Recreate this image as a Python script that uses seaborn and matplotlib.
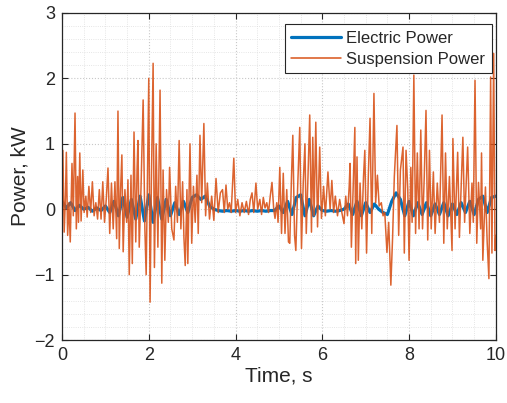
import seaborn as sns
import numpy as np
import pandas as pd
from matplotlib import pyplot as plt
from matplotlib.ticker import MultipleLocator

colors = ['#0072bd', '#d95319']

# electric power, sampled every 0.1 s
t_elec = [round(0.1 * i, 1) for i in range(101)]
p_elec = [0.12, 0.02, 0.10, -0.02, 0.06, 0.0, 0.03, -0.03, 0.02, -0.02,
          0.05, -0.05, 0.12, -0.10, 0.18, -0.12, 0.15, -0.15, 0.20, -0.18,
          0.22, -0.20, 0.18, -0.15, 0.15, -0.10, 0.10, -0.08, 0.12, -0.05,
          0.18, 0.22, 0.15, 0.20, 0.05, 0.0, -0.02, -0.03, -0.02, -0.03,
          -0.02, -0.03, -0.02, -0.03, -0.02, -0.03, -0.02, -0.03, -0.02, -0.02,
          0.05, -0.05, 0.12, -0.08, 0.18, 0.22, -0.10, 0.15, -0.10, 0.05,
          -0.02, -0.03, -0.02, -0.03, -0.02, 0.0, 0.08, -0.08, 0.12, -0.10,
          0.10, -0.05, 0.08, 0.0, -0.05, -0.08, 0.12, 0.25, 0.15, -0.10,
          0.12, -0.10, 0.10, -0.08, 0.10, -0.10, 0.08, -0.08, 0.10, -0.10,
          0.08, -0.08, 0.10, -0.05, 0.12, -0.08, 0.15, 0.20, -0.05, 0.18, 0.20]

# suspension power, read at the turning points
t_susp = [0.00, 0.02, 0.05, 0.08, 0.10, 0.13, 0.16, 0.19, 0.23, 0.26,
          0.30, 0.33, 0.36, 0.38, 0.41, 0.44, 0.48, 0.51, 0.55, 0.58,
          0.62, 0.66, 0.70, 0.74, 0.78, 0.82, 0.86, 0.90, 0.94, 0.98,
          1.02, 1.06, 1.10, 1.14, 1.18, 1.22, 1.26, 1.29, 1.32, 1.35,
          1.38, 1.41, 1.45, 1.49, 1.52, 1.55, 1.59, 1.62, 1.66, 1.70,
          1.73, 1.75, 1.78, 1.82, 1.87, 1.91, 1.94, 1.97, 2.00, 2.03,
          2.06, 2.10, 2.13, 2.17, 2.21, 2.26, 2.30, 2.33, 2.37, 2.41,
          2.45, 2.48, 2.53, 2.58, 2.62, 2.66, 2.70, 2.74, 2.78, 2.81,
          2.84, 2.88, 2.90, 2.95, 2.99, 3.03, 3.07, 3.11, 3.14, 3.18,
          3.22, 3.27, 3.31, 3.35, 3.40, 3.45, 3.50, 3.55, 3.60, 3.65,
          3.70, 3.74, 3.78, 3.82, 3.86, 3.90, 3.96, 4.00, 4.05, 4.10,
          4.15, 4.20, 4.25, 4.30, 4.34, 4.38, 4.42, 4.47, 4.51, 4.56,
          4.60, 4.64, 4.68, 4.72, 4.76, 4.80, 4.84, 4.88, 4.91, 4.95,
          4.98, 5.02, 5.06, 5.10, 5.14, 5.18, 5.22, 5.25, 5.29, 5.32,
          5.36, 5.39, 5.43, 5.48, 5.52, 5.56, 5.60, 5.63, 5.67, 5.71,
          5.75, 5.78, 5.81, 5.85, 5.89, 5.94, 5.98, 6.03, 6.07, 6.13,
          6.18, 6.22, 6.26, 6.30, 6.35, 6.40, 6.45, 6.50, 6.54, 6.58,
          6.62, 6.64, 6.67, 6.71, 6.75, 6.77, 6.80, 6.83, 6.87, 6.91,
          6.95, 6.98, 7.02, 7.06, 7.10, 7.14, 7.19, 7.23, 7.27, 7.31,
          7.36, 7.40, 7.44, 7.49, 7.53, 7.58, 7.62, 7.66, 7.72, 7.76,
          7.80, 7.86, 7.89, 7.93, 7.97, 8.00, 8.04, 8.07, 8.11, 8.15,
          8.19, 8.23, 8.27, 8.31, 8.35, 8.39, 8.43, 8.47, 8.51, 8.56,
          8.60, 8.65, 8.70, 8.76, 8.80, 8.84, 8.88, 8.93, 8.99, 9.01,
          9.06, 9.12, 9.16, 9.24, 9.28, 9.35, 9.40, 9.45, 9.48, 9.52,
          9.56, 9.60, 9.65, 9.67, 9.70, 9.76, 9.80, 9.84, 9.88, 9.91,
          9.95, 9.98, 10.00]
p_susp = [0.10, 0.90, -0.35, 0.20, 0.87, -0.40, 0.10, -0.50, 0.70, -0.10,
          1.47, -0.30, 0.50, -0.20, 0.86, -0.18, 0.60, -0.05, 0.20, -0.12,
          0.35, -0.05, 0.42, -0.10, 0.10, -0.15, 0.30, -0.15, 0.42, -0.20,
          0.15, 0.63, -0.37, 0.40, -0.30, 0.42, -0.45, 1.50, -0.60, 0.30,
          0.83, -0.65, 0.30, -0.20, 0.45, -1.00, 0.52, -0.83, 1.18, -0.50,
          0.60, 1.05, -0.58, 0.30, 1.67, -0.30, -1.00, 0.50, 2.00, -1.42,
          0.40, 2.23, -0.89, 1.00, -0.58, 1.82, -1.13, 0.60, -0.78, 0.30,
          -0.20, 0.64, -0.30, -0.47, 0.35, -0.20, 1.05, -0.30, 0.42, -0.43,
          -0.86, 0.30, -0.83, 1.00, -0.52, 0.35, -0.20, 0.52, -0.37, 1.13,
          0.10, 1.31, -0.10, 0.40, -0.15, 0.20, -0.17, 0.47, -0.05, 0.25,
          0.30, -0.05, 0.37, 0.00, 0.10, -0.05, 0.78, -0.05, 0.15, -0.10,
          0.10, -0.05, 0.12, -0.08, 0.15, 0.25, -0.05, 0.40, 0.00, 0.15,
          -0.08, 0.18, 0.02, 0.10, -0.05, 0.20, 0.41, 0.00, -0.14, 0.10,
          -0.20, 0.64, -0.37, 0.55, -0.37, 0.30, -0.50, -0.52, 0.50, 1.13,
          -0.40, -0.63, 0.30, 1.25, -0.60, 0.40, 1.00, -0.37, 0.50, 1.44,
          -0.35, 1.10, -0.10, 1.33, -0.27, 0.95, -0.14, 0.35, -0.10, 0.57,
          0.00, 0.44, -0.05, 0.20, -0.10, 0.15, -0.05, -0.22, 0.20, -0.10,
          0.35, 0.70, -0.58, 0.30, 1.25, -0.83, 0.80, -0.78, 0.40, -0.30,
          0.50, 0.90, -0.67, 0.50, 1.39, -0.37, 1.77, 0.10, 0.52, 0.05,
          0.10, -0.10, -0.05, -0.66, -0.20, -1.16, -0.43, 0.50, 1.28, -0.40,
          0.60, 0.95, -0.67, 0.90, 0.30, -0.78, 0.64, -0.20, 2.05, -0.37,
          0.86, -0.30, 1.21, -0.30, 0.50, 1.51, -0.47, 0.90, -0.30, 0.57,
          -0.37, 0.40, -0.20, 1.44, -0.52, 0.86, -0.30, 0.50, -0.63, 1.08,
          -0.30, 0.87, -0.43, 1.10, -0.20, 0.95, -0.37, 0.40, -0.20, 1.97,
          -0.52, 0.41, -0.30, 0.86, -0.78, 0.34, -0.50, -1.06, 2.02, -0.67,
          2.38, -0.63, -0.40]

sns.set_theme(style="ticks")
plt.rcParams['font.family'] = ['Liberation Sans', 'DejaVu Sans']

df_elec = pd.DataFrame({'t': t_elec, 'p': p_elec})
df_susp = pd.DataFrame({'t': t_susp, 'p': p_susp})

fig = plt.figure(figsize=(5.07, 4.03), dpi=100)
ax = fig.add_axes([0.1223, 0.156, 0.8557, 0.812])

sns.lineplot(data=df_elec, x='t', y='p', color=colors[0], lw=2.3,
             label='Electric Power', ax=ax, sort=False)
sns.lineplot(data=df_susp, x='t', y='p', color=colors[1], lw=1.1, alpha=0.9,
             label='Suspension Power', ax=ax, sort=False)

ax.set_xlim(0, 10)
ax.set_ylim(-2, 3)
ax.xaxis.set_major_locator(MultipleLocator(2))
ax.xaxis.set_minor_locator(MultipleLocator(0.5))
ax.yaxis.set_major_locator(MultipleLocator(1))
ax.yaxis.set_minor_locator(MultipleLocator(0.2))
ax.grid(which='major', ls=':', color='#c8c8c8', lw=0.8)
ax.grid(which='minor', ls=':', color='#dddddd', lw=0.6)
ax.set_axisbelow(True)

ax.tick_params(which='major', direction='in', length=4, width=0.8,
               top=True, right=True, labelsize=13, colors='#262626', pad=5)
ax.tick_params(which='minor', length=0)
for s in ax.spines.values():
    s.set_color('#262626')
    s.set_linewidth(0.9)

ax.set_xlabel('Time, s', fontsize=15, color='#262626', labelpad=2)
ax.set_ylabel('Power, kW', fontsize=15, color='#262626', labelpad=4)

leg = ax.legend(loc='upper right', bbox_to_anchor=(0.991, 0.966),
                fontsize=12, frameon=True, fancybox=False,
                edgecolor='#262626', framealpha=1, borderpad=0.4,
                handlelength=3.0, handletextpad=0.3, labelspacing=0.35,
                borderaxespad=0)
leg.get_frame().set_linewidth(0.8)
for line in leg.get_lines():
    line.set_alpha(1)

fig.savefig('out.png', dpi=100)
